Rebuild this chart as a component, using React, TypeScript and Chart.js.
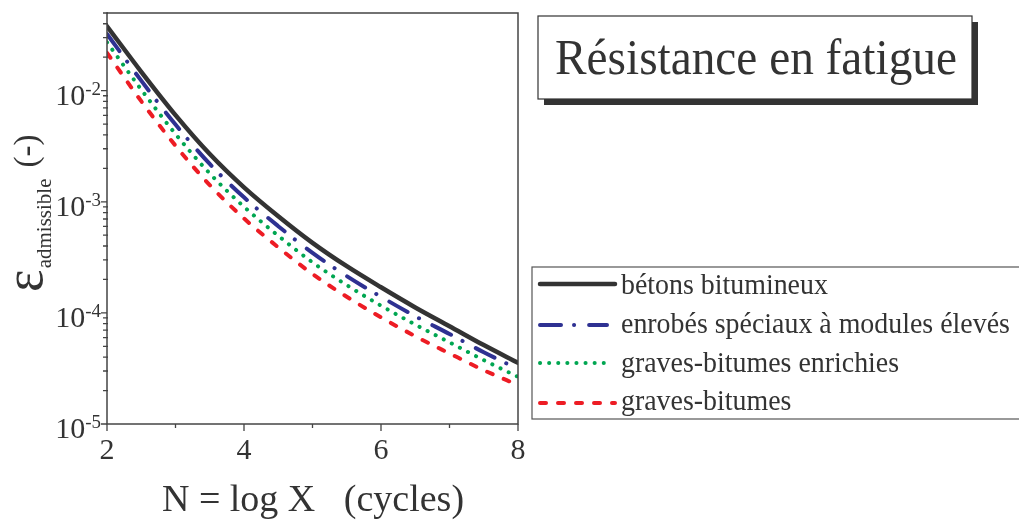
import { useEffect, useRef } from 'react';
import { Chart, registerables } from 'chart.js';

Chart.register(...registerables);

// ---- data ----
const cycles = [2, 2.5, 3, 3.5, 4, 4.5, 5, 5.5, 6, 6.5, 7, 7.5, 8];
const betonsBitumineux = [3.80e-2, 1.479e-2, 6.03e-3, 2.69e-3, 1.349e-3, 7.41e-4, 4.27e-4, 2.63e-4, 1.70e-4, 1.12e-4, 7.59e-5, 5.13e-5, 3.55e-5];
const enrobesSpeciaux = [3.236e-2, 1.230e-2, 4.955e-3, 2.188e-3, 1.096e-3, 6.03e-4, 3.47e-4, 2.14e-4, 1.396e-4, 9.33e-5, 6.46e-5, 4.42e-5, 3.13e-5];
const gravesBitumesEnrichies = [2.723e-2, 1.023e-2, 4.074e-3, 1.799e-3, 9.02e-4, 4.95e-4, 2.85e-4, 1.778e-4, 1.161e-4, 7.85e-5, 5.43e-5, 3.76e-5, 2.66e-5];
const gravesBitumes = [2.188e-2, 8.04e-3, 3.20e-3, 1.413e-3, 7.08e-4, 3.89e-4, 2.24e-4, 1.396e-4, 9.12e-5, 6.17e-5, 4.32e-5, 3.05e-5, 2.24e-5];

const seriesLabels = [
  'bétons bitumineux',
  'enrobés spéciaux à modules élevés',
  'graves-bitumes enrichies',
  'graves-bitumes',
];
const xMajorTicks = [2, 4, 6, 8];
const xMinorTicks = [3, 5, 7];
const yDecadeExponents = [-5, -4, -3, -2];
const xRange = [2, 8];
const yRange = [1e-5, 5e-2];
const chartTitle = 'Résistance en fatigue';
const xAxisTitle = 'N = log X   (cycles)';
const yAxisSymbol = 'ε';
const yAxisSubscript = 'admissible';
const yAxisUnit = '(-)';

// ---- styles ----
const FONT = "'Liberation Serif', 'Times New Roman', serif";
const INK = '#333333';
const AXIS = '#444444';
const seriesColors = ['#333333', '#2e3192', '#00a651', '#ed1c24'];
const seriesWidths = [4.5, 4, 4, 4];
const seriesDashes: number[][] = [[], [21, 13, 0.1, 15], [0.1, 9], [6, 12]];

function drawText(
  ctx: CanvasRenderingContext2D,
  s: string,
  x: number,
  y: number,
  size: number,
  align: CanvasTextAlign = 'left',
  sx = 1
) {
  ctx.save();
  ctx.font = `${size}px ${FONT}`;
  ctx.textAlign = align;
  ctx.textBaseline = 'alphabetic';
  ctx.translate(x, y);
  ctx.scale(sx, 1);
  ctx.fillText(s, 0, 0);
  const w = ctx.measureText(s).width * sx;
  ctx.restore();
  return w;
}

const decorPlugin = {
  id: 'decor',
  afterDraw(chart: any) {
    const ctx: CanvasRenderingContext2D = chart.ctx;
    const { left, right, top, bottom } = chart.chartArea;
    const xs = chart.scales.x;
    const ys = chart.scales.y;
    ctx.save();

    // frame
    ctx.strokeStyle = AXIS;
    ctx.lineWidth = 1.5;
    ctx.strokeRect(left, top, right - left, bottom - top);

    // x ticks
    ctx.lineWidth = 1.3;
    ctx.beginPath();
    xMajorTicks.forEach((v) => {
      const px = xs.getPixelForValue(v);
      ctx.moveTo(px, bottom);
      ctx.lineTo(px, bottom + 7);
    });
    xMinorTicks.forEach((v) => {
      const px = xs.getPixelForValue(v);
      ctx.moveTo(px, bottom);
      ctx.lineTo(px, bottom + 4);
    });
    // y ticks
    yDecadeExponents.forEach((e) => {
      const py = ys.getPixelForValue(Math.pow(10, e));
      ctx.moveTo(left - 6, py);
      ctx.lineTo(left, py);
      for (let m = 2; m <= 9; m++) {
        const v = m * Math.pow(10, e);
        if (v > yRange[1] * 1.0001) break;
        const p = ys.getPixelForValue(v);
        ctx.moveTo(left - 4, p);
        ctx.lineTo(left + 1, p);
      }
    });
    ctx.stroke();

    ctx.fillStyle = INK;
    // x tick labels
    xMajorTicks.forEach((v) => {
      drawText(ctx, String(v), xs.getPixelForValue(v), bottom + 35, 30, 'center');
    });
    // y tick labels
    yDecadeExponents.forEach((e) => {
      const py = ys.getPixelForValue(Math.pow(10, e));
      const sw = drawText(ctx, String(e), left - 6, py + 4, 19, 'right');
      drawText(ctx, '10', left - 6 - sw, py + 14, 30, 'right');
    });

    // x title
    drawText(ctx, xAxisTitle, 313, 511, 38, 'center');

    // y title (rotated)
    ctx.save();
    ctx.translate(42, 292);
    ctx.rotate(-Math.PI / 2);
    const ew = drawText(ctx, yAxisSymbol, 0, 0, 54, 'left');
    const aw = drawText(ctx, yAxisSubscript, ew + 1, 9, 21, 'left');
    drawText(ctx, yAxisUnit, ew + aw + 12, -5, 33, 'left');
    ctx.restore();

    // title box
    const bx = 538, by = 16, bw = 434, bh = 83;
    ctx.fillStyle = '#333333';
    ctx.fillRect(bx + 6, by + 6, bw, bh);
    ctx.fillStyle = '#ffffff';
    ctx.fillRect(bx, by, bw, bh);
    ctx.strokeStyle = '#333333';
    ctx.lineWidth = 1.2;
    ctx.strokeRect(bx, by, bw, bh);
    ctx.fillStyle = INK;
    drawText(ctx, chartTitle, bx + bw / 2 + 1, 74, 50, 'center', 0.946);

    // legend
    ctx.strokeStyle = '#555555';
    ctx.lineWidth = 1.2;
    ctx.strokeRect(532, 267, 520, 152);
    const rowsText = [294, 333, 372, 410];
    const rowsLine = [284, 325, 363, 403];
    const rowsEnd = [615, 607, 609, 615];
    chart.data.datasets.forEach((ds: any, i: number) => {
      ctx.save();
      ctx.strokeStyle = ds.borderColor;
      ctx.lineWidth = ds.borderWidth;
      ctx.lineCap = 'round';
      ctx.setLineDash(ds.borderDash || []);
      ctx.beginPath();
      ctx.moveTo(540, rowsLine[i]);
      ctx.lineTo(rowsEnd[i], rowsLine[i]);
      ctx.stroke();
      ctx.restore();
      ctx.fillStyle = INK;
      drawText(ctx, ds.label, 621, rowsText[i], 29, 'left', 0.962);
    });

    ctx.restore();
  },
};

export default function App() {
  const ref = useRef<HTMLCanvasElement | null>(null);
  useEffect(() => {
    if (!ref.current) return;
    const seriesValues = [betonsBitumineux, enrobesSpeciaux, gravesBitumesEnrichies, gravesBitumes];
    const chart = new Chart(ref.current, {
      type: 'line',
      data: {
        datasets: seriesValues.map((vals, i) => ({
          label: seriesLabels[i],
          data: cycles.map((n, j) => ({ x: n, y: vals[j] })),
          borderColor: seriesColors[i],
          backgroundColor: seriesColors[i],
          borderWidth: seriesWidths[i],
          borderDash: seriesDashes[i],
          borderCapStyle: 'round',
          borderJoinStyle: 'round',
          cubicInterpolationMode: 'monotone',
          pointRadius: 0,
          fill: false,
        })),
      },
      options: {
        responsive: false,
        animation: false,
        layout: { padding: { left: 107, top: 13, right: 1019 - 518, bottom: 522 - 424 } },
        plugins: { legend: { display: false }, tooltip: { enabled: false }, title: { display: false } },
        scales: {
          x: { type: 'linear', min: xRange[0], max: xRange[1], display: false },
          y: { type: 'logarithmic', min: yRange[0], max: yRange[1], display: false },
        },
      },
      plugins: [decorPlugin],
    } as any);
    return () => chart.destroy();
  }, []);
  return (
    <div style={{ position: 'absolute', left: 0, top: 0, width: 1019, height: 522, background: '#fff' }}>
      <canvas ref={ref} width={1019} height={522} style={{ display: 'block' }} />
    </div>
  );
}
